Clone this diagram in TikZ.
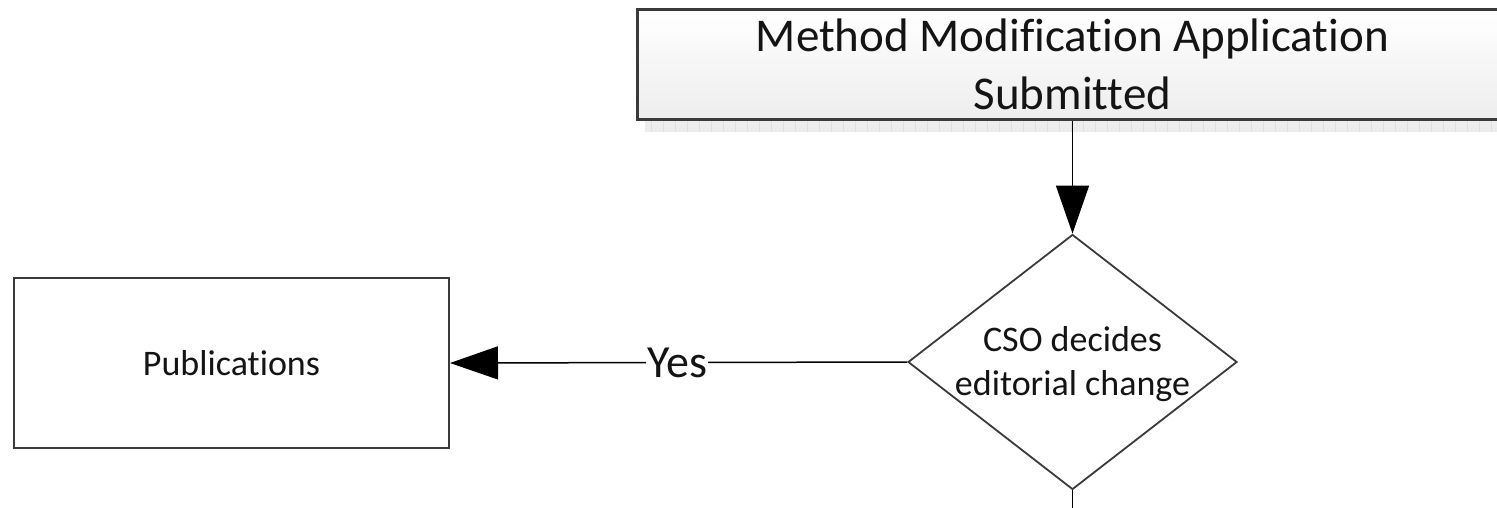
\documentclass[tikz,border=0pt]{standalone}
\usepackage{fontspec}
\setmainfont{Carlito}[Ligatures={NoCommon}]
\usetikzlibrary{shapes.geometric,arrows.meta}

\definecolor{edge}{HTML}{3A3A3A}
\definecolor{ink}{HTML}{141414}

\tikzset{
  titlebox/.style={draw=edge, line width=2.4pt, top color=white, bottom color=gray!14,
    minimum width=870pt, minimum height=110pt, inner sep=0pt, align=center,
    font=\fontsize{47}{58}\selectfont, text=ink},
  decision/.style={diamond, draw=edge, line width=1.8pt, minimum width=329pt,
    minimum height=255pt, inner sep=0pt},
  decisiontext/.style={align=center, font=\fontsize{36}{44}\selectfont, text=ink},
  procbox/.style={draw=edge, line width=2pt, minimum width=435pt, minimum height=170pt,
    inner sep=0pt, font=\fontsize{36}{44}\selectfont, text=ink},
  flow/.style={draw=black, line width=1.5pt, -{Triangle[length=48pt,width=33pt]}},
  edgelabel/.style={fill=white, inner sep=1pt, font=\fontsize{46}{52}\selectfont, text=ink}
}

\begin{document}
\begin{tikzpicture}[x=1pt,y=-1pt]
  \useasboundingbox (0,0) rectangle (1497,507);
  \clip (0,0) rectangle (1497,507);

  % drop shadow under the title box
  \fill[gray!14] (645,121) rectangle (1520,132);
  \foreach \k in {0,...,72}
    \draw[gray!24, line width=1pt] (651+12*\k,121) -- (651+12*\k,132);

  % title box
  \node[titlebox] (app) at (1072.5,64.5) {Method Modification Application\\Submitted};

  % decision
  \node[decision] (dec) at (1072.5,362) {};
  \node[decisiontext] (dectext) at (1072.5,364) {CSO decides\\editorial change};

  % publications
  \node[procbox] (pub) at (231.5,363) {Publications};

  % continuation below the decision
  \coordinate (down) at (1072.5,520);

  % connectors
  \draw[flow] (app.south) -- (dec.north);
  \draw[flow] (dec.west) -- node[edgelabel, pos=0.503] (yes) {Yes} (pub.east);
  \draw[draw=black, line width=1.5pt] (dec.south) -- (down);
\end{tikzpicture}
\end{document}
